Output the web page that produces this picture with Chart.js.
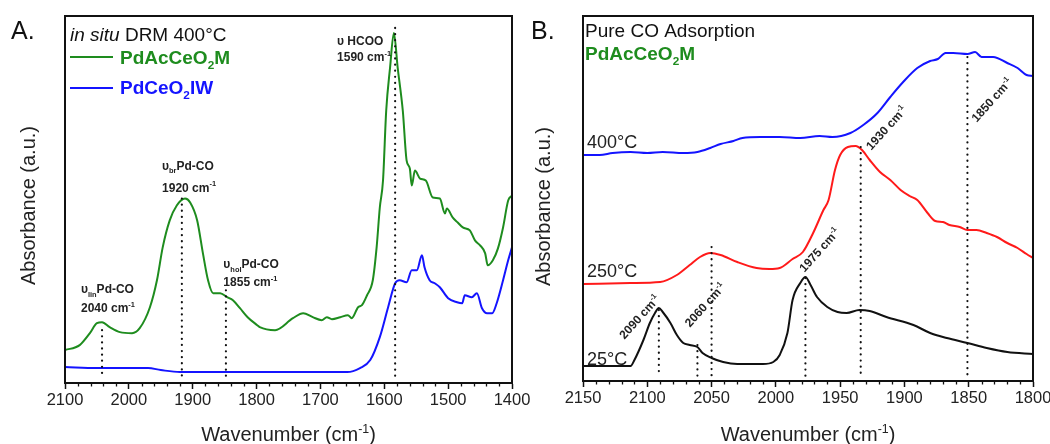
<!DOCTYPE html>
<html><head><meta charset="utf-8">
<script src="https://cdn.jsdelivr.net/npm/chart.js@4.4.0/dist/chart.umd.min.js"></script>
<style>
html,body{margin:0;padding:0;background:#fff;width:1050px;height:444px;overflow:hidden}
.p{position:absolute;top:0;height:444px}
</style></head><body>
<div class="p" style="left:0;width:545px"><canvas id="ca" width="545" height="444"></canvas></div>
<div class="p" style="left:525px;width:525px"><canvas id="cb" width="525" height="444"></canvas></div>
<script>
// ---------- Panel A data: in situ DRM 400°C ----------
const A_TICKS = [2100, 2000, 1900, 1800, 1700, 1600, 1500, 1400];
const A_GREEN_X = [2100,2077,2061,2050,2042,2030,2014,1995,1983,1967,1956,1947,1936,1925,1912,1904,1893,1884,1876,1868,1857,1846,1837,1826,1814,1799,1795,1771,1743,1727,1712,1698,1690,1682,1669,1657,1651,1641,1635,1627,1618,1612,1607,1602,1597,1591,1585,1579,1571,1565,1560,1557,1552,1544,1535,1524,1513,1505,1502,1493,1485,1477,1466,1458,1450,1442,1438,1430,1422,1414,1406,1400];
const A_GREEN_Y = [33,38,50,60,61,56,51,50,55,76,103,136,163,178,185,181,163,130,103,90,90,86,83,75,66,58,56,53,65,70,66,63,66,64,66,68,65,76,78,88,103,136,176,203,273,316,351,316,273,223,215,198,213,205,203,186,185,170,175,166,161,156,153,143,138,130,118,123,135,156,183,188];
const A_BLUE_X = [2100,2050,1970,1950,1920,1658,1638,1622,1607,1594,1583,1576,1565,1557,1549,1541,1537,1529,1521,1513,1500,1486,1478,1474,1463,1455,1447,1439,1431,1424,1414,1406,1400];
const A_BLUE_Y = [16,15,15,13,11,11,15,23,46,76,100,103,101,113,113,128,116,103,100,96,85,81,80,88,86,90,75,70,70,80,103,123,136];
const A_PEAK_X = [2042, 1917, 1848, 1583];
const A_PEAK_TOP = [53, 185, 93, 356];

// ---------- Panel B data: pure CO adsorption ----------
const B_TICKS = [2150, 2100, 2050, 2000, 1950, 1900, 1850, 1800];
const B_BLACK_X = [2150,2113,2110,2103,2098,2094,2091,2088,2082,2077,2072,2067,2061,2057,2050,2041,2030,2010,2002,1997,1991,1987,1981,1977,1973,1968,1960,1952,1945,1935,1927,1914,1893,1880,1867,1851,1836,1820,1800];
const B_BLACK_Y = [15,15,21,41,58,68,73,69,58,46,38,36,34,28,23,19,17,17,19,26,48,81,98,104,96,84,74,69,68,71,70,64,56,48,43,38,33,29,27];
const B_RED_X = [2150,2113,2090,2077,2067,2059,2051,2043,2030,2015,2005,1997,1987,1979,1971,1963,1959,1954,1950,1944,1938,1933,1927,1919,1911,1903,1896,1890,1882,1876,1870,1865,1857,1851,1844,1836,1828,1820,1812,1805,1800];
const B_RED_Y = [97,98,99,106,116,124,128,126,119,113,112,113,122,129,148,171,181,211,226,234,235,231,221,209,201,191,185,181,168,160,159,156,154,151,151,148,144,138,133,127,123];
const B_BLUE_X = [2150,2137,2127,2113,2100,2088,2072,2061,2051,2043,2033,2026,2012,1997,1981,1966,1956,1942,1932,1921,1911,1901,1890,1880,1874,1868,1862,1851,1845,1840,1831,1820,1812,1805,1800];
const B_BLUE_Y = [226,226,228,229,228,229,228,229,233,237,240,243,244,244,243,245,244,248,256,268,284,299,313,320,322,328,328,327,329,324,324,318,313,306,305];
const B_PEAK_X = [2091, 2061, 2050, 1977, 1934, 1851];
const B_PEAK_TOP = [71, 36, 134, 103, 234, 324];

const FONT = '"Liberation Sans", Arial, Helvetica, sans-serif';
const GREEN = '#1e8c1e', BLUE = '#1414ff', RED = '#ff1a1a', BLACK = '#111111';

function zip(xs, ys) { return xs.map((x, i) => ({x, y: ys[i]})); }

function curve(label, xs, ys, color) {
  return {label, data: zip(xs, ys), borderColor: color, borderWidth: 2, pointRadius: 0,
          cubicInterpolationMode: 'monotone', fill: false, order: 2};
}
function dotted(xs, tops) {
  return xs.map((x, i) => ({label: 'peak', data: [{x, y: tops[i]}, {x, y: 5}], borderColor: BLACK,
    borderWidth: 2.2, borderDash: [0.1, 6], borderCapStyle: 'round', pointRadius: 0, tension: 0, order: 0}));
}

function rich(ctx, x, y, parts, size, color, align) {
  const fontFor = (p, sz) => `${p.i ? 'italic ' : ''}${p.b ? 'bold ' : ''}${sz}px ${FONT}`;
  let w = 0;
  const items = parts.map(p => {
    const sz = p.s ? size * 0.62 : size;
    ctx.font = fontFor(p, sz);
    const mw = ctx.measureText(p.t).width;
    w += mw;
    return {p, sz, mw};
  });
  let cx = align === 'center' ? x - w / 2 : (align === 'right' ? x - w : x);
  ctx.fillStyle = color; ctx.textBaseline = 'alphabetic'; ctx.textAlign = 'left';
  for (const it of items) {
    ctx.font = fontFor(it.p, it.sz);
    const dy = it.p.s === 'sub' ? size * 0.28 : (it.p.s === 'sup' ? -size * 0.42 : 0);
    ctx.fillText(it.p.t, cx, y + dy);
    cx += it.mw;
  }
}
const B = (t) => ({t, b: true});
const SUBB = (t) => ({t, b: true, s: 'sub'});
const SUPB = (t) => ({t, b: true, s: 'sup'});

function frameAndTicks(chart, minorStep, majorStep) {
  const {ctx, chartArea: ca, scales: {x}} = chart;
  ctx.save();
  ctx.strokeStyle = BLACK; ctx.lineWidth = 2;
  ctx.strokeRect(ca.left, ca.top, ca.right - ca.left, ca.bottom - ca.top);
  ctx.lineWidth = 1.3;
  const lo = Math.min(x.min, x.max), hi = Math.max(x.min, x.max);
  for (let v = lo; v <= hi; v += minorStep) {
    if (v % majorStep === 0) continue;
    const px = Math.round(x.getPixelForValue(v)) + 0.5;
    ctx.beginPath(); ctx.moveTo(px, ca.bottom); ctx.lineTo(px, ca.bottom + 3.5); ctx.stroke();
  }
  rich(ctx, (ca.left + ca.right) / 2, 441, [{t: 'Wavenumber (cm'}, {t: '-1', s: 'sup'}, {t: ')'}], 20, '#222', 'center');
  ctx.restore();
}
function yTitle(ctx, xBase, yc) {
  ctx.save();
  ctx.translate(xBase, yc); ctx.rotate(-Math.PI / 2);
  rich(ctx, 0, 0, [{t: 'Absorbance (a.u.)'}], 20, '#222', 'center');
  ctx.restore();
}

function xScale(min, max, ticks, h) {
  return {
    type: 'linear', reverse: true, min, max,
    afterBuildTicks: s => { s.ticks = ticks.map(v => ({value: v})); },
    ticks: {font: {family: FONT, size: 16.5}, color: '#222', padding: 2, maxRotation: 0, autoSkip: false,
            callback: v => String(v)},
    grid: {drawOnChartArea: false, drawTicks: true, tickLength: 6, tickWidth: 1.5, tickColor: BLACK},
    border: {display: true, color: BLACK, width: 2},
    afterFit: s => { s.height = h; s.paddingLeft = 0; s.paddingRight = 0; }
  };
}
function yScale(max, w) {
  return {type: 'linear', min: 0, max, ticks: {display: false}, grid: {display: false},
          border: {display: true, color: BLACK, width: 2}, afterFit: s => { s.width = w; }};
}

const common = {responsive: false, animation: false, devicePixelRatio: 1,
  plugins: {legend: {display: false}, tooltip: {enabled: false}}};

// ---------- Panel A ----------
new Chart(document.getElementById('ca'), {
  type: 'line',
  data: {datasets: [curve('PdAcCeO2M', A_GREEN_X, A_GREEN_Y, GREEN), curve('PdCeO2IW', A_BLUE_X, A_BLUE_Y, BLUE), ...dotted(A_PEAK_X, A_PEAK_TOP)]},
  options: Object.assign({}, common, {
    layout: {padding: {left: 0, right: 33, top: 16, bottom: 0}},
    scales: {x: xScale(1400, 2100, A_TICKS, 61), y: yScale(368, 65)}
  }),
  plugins: [{id: 'decoA', afterDraw(chart) {
    const {ctx, chartArea: ca, scales: {x, y}} = chart;
    frameAndTicks(chart, 20, 100);
    ctx.save();
    ctx.font = `25px ${FONT}`; ctx.fillStyle = BLACK; ctx.textAlign = 'left'; ctx.fillText('A.', 11, 39);
    yTitle(ctx, 35, (ca.top + ca.bottom) / 2 + 6);
    rich(ctx, ca.left + 5, 41, [{t: 'in situ', i: true}, {t: ' DRM 400°C'}], 19, BLACK, 'left');
    const ds = chart.data.datasets;
    [[ds[0], 57, 64, [B('PdAcCeO'), SUBB('2'), B('M')]], [ds[1], 88, 94, [B('PdCeO'), SUBB('2'), B('IW')]]].forEach(([d, ly, ty, parts]) => {
      ctx.strokeStyle = d.borderColor; ctx.lineWidth = 2;
      ctx.beginPath(); ctx.moveTo(ca.left + 5, ly); ctx.lineTo(ca.left + 48, ly); ctx.stroke();
      rich(ctx, ca.left + 55, ty, parts, 19, d.borderColor, 'left');
    });
    const P = (wn, v) => [x.getPixelForValue(wn), y.getPixelForValue(v)];
    const ann = [
      [2075, 90, [B('υ'), SUBB('lin'), B('Pd-CO')], 71, '2040'],
      [1948, 214, [B('υ'), SUBB('br'), B('Pd-CO')], 192, '1920'],
      [1852, 115, [B('υ'), SUBB('hol'), B('Pd-CO')], 97, '1855'],
      [1674, 339, [B('υ HCOO')], 323, '1590']
    ];
    ann.forEach(([wn, v1, parts, v2, num]) => {
      const [px, py1] = P(wn, v1); const py2 = y.getPixelForValue(v2);
      rich(ctx, px, py1, parts, 12, '#222', 'left');
      rich(ctx, px, py2, [B(num + ' cm'), SUPB('-1')], 12, '#222', 'left');
    });
    ctx.restore();
  }}]
});

// ---------- Panel B ----------
new Chart(document.getElementById('cb'), {
  type: 'line',
  data: {datasets: [curve('25°C', B_BLACK_X, B_BLACK_Y, BLACK), curve('250°C', B_RED_X, B_RED_Y, RED), curve('400°C', B_BLUE_X, B_BLUE_Y, BLUE), ...dotted(B_PEAK_X, B_PEAK_TOP)]},
  options: Object.assign({}, common, {
    layout: {padding: {left: 0, right: 17, top: 16, bottom: 0}},
    scales: {x: xScale(1800, 2150, B_TICKS, 63), y: yScale(365, 58)}
  }),
  plugins: [{id: 'decoB', afterDraw(chart) {
    const {ctx, chartArea: ca, scales: {x, y}} = chart;
    frameAndTicks(chart, 10, 50);
    ctx.save();
    ctx.font = `25px ${FONT}`; ctx.fillStyle = BLACK; ctx.textAlign = 'left'; ctx.fillText('B.', 6, 39);
    yTitle(ctx, 25, (ca.top + ca.bottom) / 2 + 8);
    rich(ctx, ca.left + 2, 37, [{t: 'Pure CO Adsorption'}], 19, BLACK, 'left');
    rich(ctx, ca.left + 2, 60, [B('PdAcCeO'), SUBB('2'), B('M')], 19, GREEN, 'left');
    const ds = chart.data.datasets;
    [[ds[2], 233], [ds[1], 104], [ds[0], 16]].forEach(([d, v]) => {
      rich(ctx, ca.left + 4, y.getPixelForValue(v), [{t: d.label}], 18, '#222', 'left');
    });
    const rot = [[2106, 64, '2090'], [2055, 76, '2060'], [1966, 131, '1975'], [1914, 253, '1930'], [1832, 281, '1850']];
    rot.forEach(([wn, v, num]) => {
      ctx.save();
      ctx.translate(x.getPixelForValue(wn), y.getPixelForValue(v));
      ctx.rotate(-48 * Math.PI / 180);
      rich(ctx, 0, 4, [B(num + ' cm'), SUPB('-1')], 12, '#222', 'center');
      ctx.restore();
    });
    ctx.restore();
  }}]
});
</script></body></html>
